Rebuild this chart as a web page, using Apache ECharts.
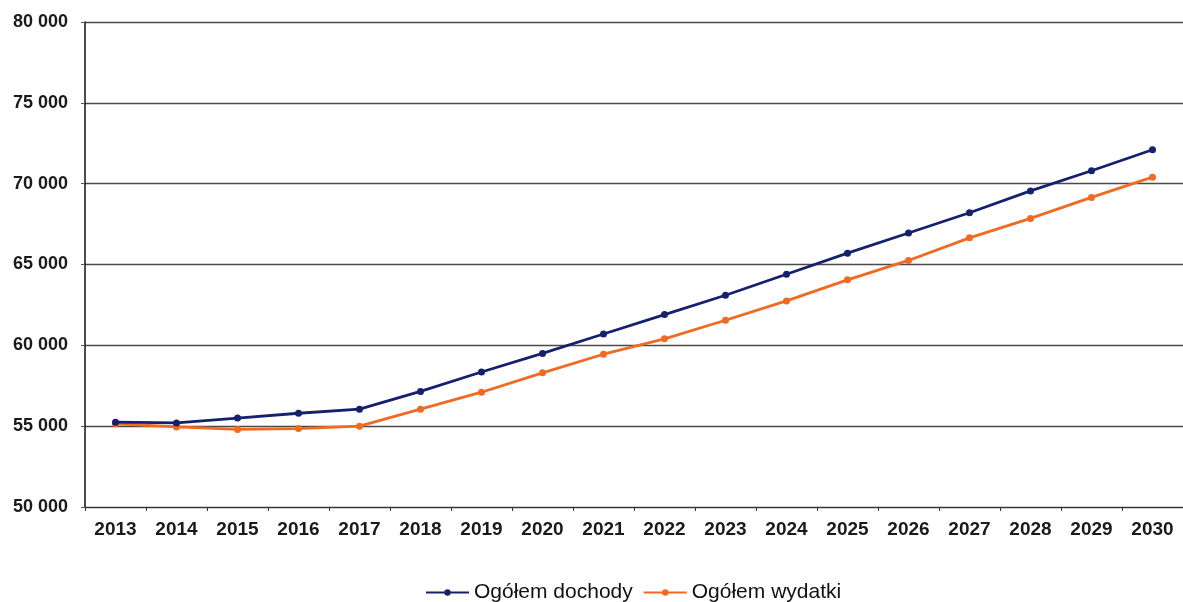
<!DOCTYPE html>
<html>
<head>
<meta charset="utf-8">
<script src="https://cdn.jsdelivr.net/npm/echarts@6/dist/echarts.min.js"></script>
<style>
  html, body { margin: 0; padding: 0; background: #fff; }
  #chart { width: 1183px; height: 602px; }
</style>
</head>
<body>
<div id="chart"></div>
<script>
// Years on the category axis
const years = ['2013','2014','2015','2016','2017','2018','2019','2020','2021','2022','2023','2024','2025','2026','2027','2028','2029','2030'];
// Total revenue
const dochody = [55250, 55200, 55500, 55800, 56050, 57150, 58350, 59500, 60700, 61900, 63100, 64400, 65700, 66950, 68200, 69550, 70800, 72100];
// Total expenditure
const wydatki = [55150, 54950, 54800, 54850, 55000, 56050, 57100, 58300, 59450, 60400, 61550, 62750, 64050, 65250, 66650, 67850, 69150, 70400];
const seriesNames = ['Ogółem dochody', 'Ogółem wydatki'];

const fmt = v => String(v).replace(/\B(?=(\d{3})+(?!\d))/g, ' ');

const chart = echarts.init(document.getElementById('chart'));
chart.setOption({
  backgroundColor: '#ffffff',
  animation: false,
  grid: { left: 85, right: 0, top: 22, bottom: 95 },
  legend: {
    top: 577,
    left: 420,
    itemWidth: 43,
    itemHeight: 8,
    itemGap: 10,
    textStyle: { fontFamily: 'Liberation Sans, Arial, sans-serif', fontSize: 21, color: '#111' },
    data: seriesNames
  },
  xAxis: {
    type: 'category',
    data: years,
    boundaryGap: true,
    axisLine: { lineStyle: { color: '#333', width: 1.2 } },
    axisTick: { show: true, length: 4, lineStyle: { color: '#333' } },
    axisLabel: {
      margin: 13,
      fontFamily: 'Liberation Sans, Arial, sans-serif',
      fontSize: 19, fontWeight: 'bold', color: '#1a1a1a'
    }
  },
  yAxis: {
    type: 'value',
    min: 50000, max: 80000, interval: 5000,
    axisLine: { show: true, lineStyle: { color: '#111', width: 1.5 } },
    axisTick: { show: true, length: 4, lineStyle: { color: '#555' } },
    splitLine: { lineStyle: { color: '#4a4a4a', width: 1.4 } },
    axisLabel: {
      margin: 17,
      formatter: fmt,
      fontFamily: 'Liberation Sans, Arial, sans-serif',
      fontSize: 18, fontWeight: 'bold', color: '#1a1a1a'
    }
  },
  series: [
    {
      name: seriesNames[0],
      type: 'line',
      data: dochody,
      symbol: 'circle',
      symbolSize: 7,
      lineStyle: { color: '#15206e', width: 2.8 },
      itemStyle: { color: '#15206e' },
      z: 3
    },
    {
      name: seriesNames[1],
      type: 'line',
      data: wydatki,
      symbol: 'circle',
      symbolSize: 7,
      lineStyle: { color: '#f26a22', width: 2.8 },
      itemStyle: { color: '#f26a22' },
      z: 2
    }
  ]
});
</script>
</body>
</html>
